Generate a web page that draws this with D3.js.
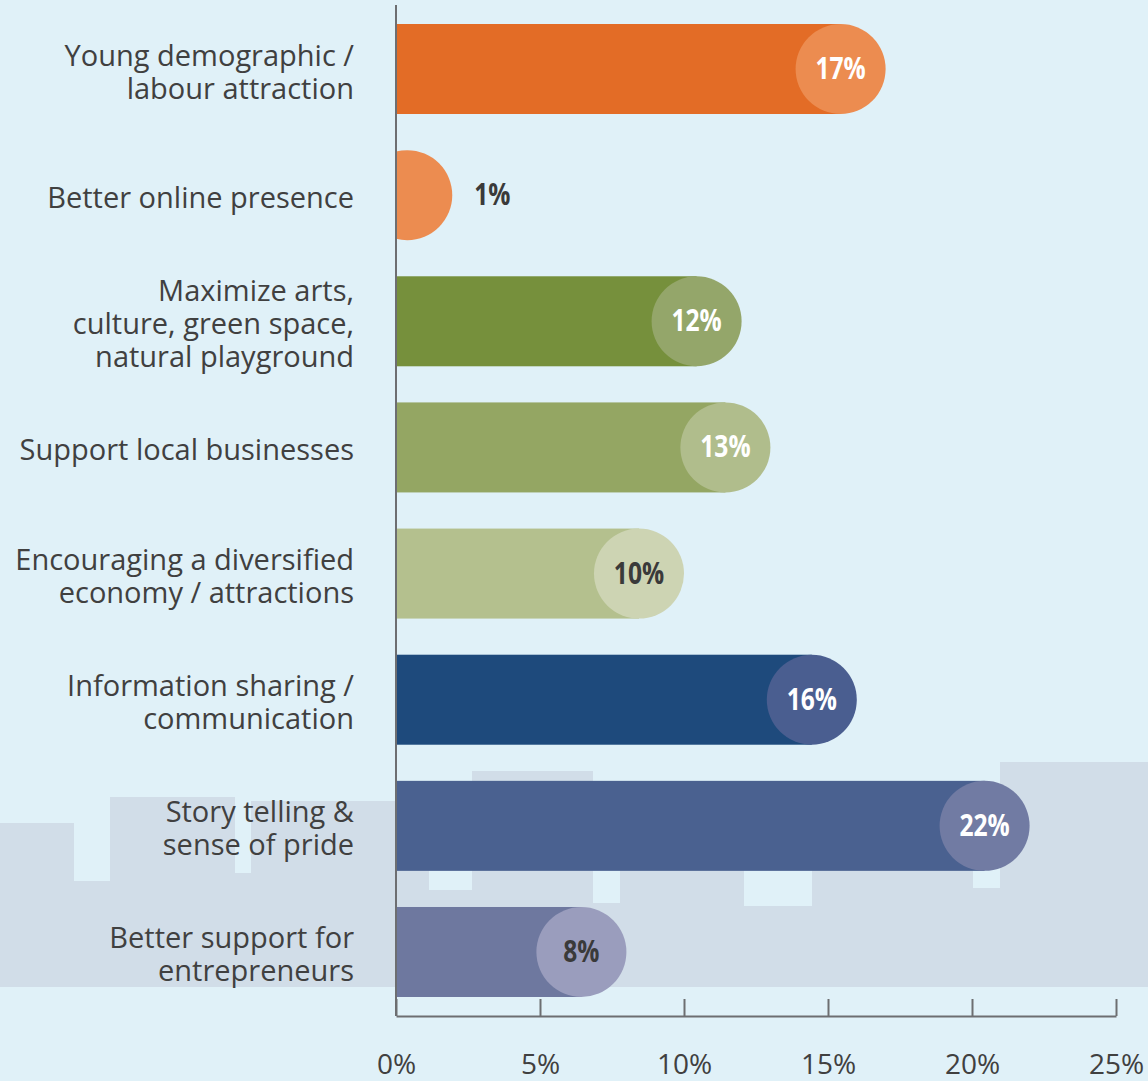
<!doctype html>
<html>
<head>
<meta charset="UTF-8">
<title>Priorities</title>
<script src="https://d3js.org/d3.v7.min.js"></script>
<style>
  body { margin: 0; background: #e0f1f8; }
  svg { display: block; }
</style>
</head>
<body>
<script>
// chart values
var categories = [
  "Young demographic /\nlabour attraction",
  "Better online presence",
  "Maximize arts,\nculture, green space,\nnatural playground",
  "Support local businesses",
  "Encouraging a diversified\neconomy / attractions",
  "Information sharing /\ncommunication",
  "Story telling &\nsense of pride",
  "Better support for\nentrepreneurs"
];
var values = [17, 1, 12, 13, 10, 16, 22, 8];
var tickValues = [0, 5, 10, 15, 20, 25];

// colours: bar body, end circle, label
var barColors = ["#e36c26", "#ec8c50", "#76903c", "#94a663", "#b4c08e", "#1e4a7c", "#4a6190", "#6e789f"];
var dotColors = ["#ec8c50", "#ec8c50", "#94a66a", "#b0bd8c", "#cdd4b3", "#4a5e90", "#717ba3", "#9a9dbd"];
var labelColors = ["#fff", "#3a3a3a", "#fff", "#fff", "#3a3a3a", "#fff", "#fff", "#3a3a3a"];

// background skyline decoration (page pixels): [x0, x1, top]
var skyline = [
  [0, 74, 823], [74, 110, 881], [110, 235, 797], [235, 251, 873], [251, 429, 801],
  [429, 472, 890], [472, 593, 771], [593, 620, 903], [620, 744, 790], [744, 812, 906],
  [812, 973, 800], [973, 1000, 888], [1000, 1148, 762]
];

var W = 1148, H = 1081;
var svg = d3.select("body").append("svg").attr("width", W).attr("height", H);

svg.append("rect").attr("width", W).attr("height", H).attr("fill", "#e0f1f8");

// skyline
svg.append("g").selectAll("rect").data(skyline).join("rect")
  .attr("x", function(d) { return d[0]; })
  .attr("y", function(d) { return d[2]; })
  .attr("width", function(d) { return d[1] - d[0]; })
  .attr("height", function(d) { return 987 - d[2]; })
  .attr("fill", "#d1dde8")
  .attr("shape-rendering", "crispEdges");

var x = d3.scaleLinear().domain([0, 25]).range([396, 1116]);
var y = d3.scaleBand().domain(d3.range(categories.length)).range([24, 997]).paddingInner(0.2865).paddingOuter(0);
var r = y.bandwidth() / 2;

svg.append("clipPath").attr("id", "plot")
  .append("rect").attr("x", x(0)).attr("y", 0).attr("width", W - x(0)).attr("height", H);

var bars = svg.append("g").attr("clip-path", "url(#plot)");

function dotX(v) { return Math.max(x(v) - r, x(0) + r / 4); }

bars.selectAll("rect").data(values).join("rect")
  .attr("x", x(0))
  .attr("y", function(d, i) { return y(i); })
  .attr("width", function(d) { return Math.max(0, x(d) - r - x(0)); })
  .attr("height", y.bandwidth())
  .attr("fill", function(d, i) { return barColors[i]; });

bars.selectAll("circle").data(values).join("circle")
  .attr("cx", function(d) { return dotX(d); })
  .attr("cy", function(d, i) { return y(i) + r; })
  .attr("r", r)
  .attr("fill", function(d, i) { return dotColors[i]; });

// value labels (condensed bold)
svg.append("g").selectAll("text").data(values).join("text")
  .attr("transform", function(d, i) {
    var cx = x(d) - r < x(0) + r / 4 ? dotX(d) + r + 40 : dotX(d);
    return "translate(" + cx + "," + (y(i) + r + 10) + ") scale(0.82,1)";
  })
  .attr("text-anchor", "middle")
  .attr("font-family", "'Open Sans', sans-serif")
  .attr("font-weight", "bold")
  .attr("font-size", 30)
  .attr("fill", function(d, i) { return labelColors[i]; })
  .text(function(d) { return d + "%"; });

// category labels
var cat = svg.append("g").selectAll("text").data(categories).join("text")
  .attr("text-anchor", "end")
  .attr("font-family", "'Open Sans', sans-serif")
  .attr("font-size", 29)
  .attr("fill", "#404040");

cat.each(function(d, i) {
  var lines = d.split("\n");
  var n = lines.length;
  var t = d3.select(this);
  lines.forEach(function(line, j) {
    t.append("tspan")
      .attr("x", 354)
      .attr("y", y(i) + r + (j - (n - 1) / 2) * 33 + 13)
      .text(line);
  });
});

// axes
svg.append("line")
  .attr("x1", x(0)).attr("x2", x(0)).attr("y1", 5).attr("y2", 1016)
  .attr("stroke", "#6d6e71").attr("stroke-width", 2);

var xAxis = d3.axisBottom(x).tickValues(tickValues).tickSize(-17).tickSizeOuter(0)
  .tickFormat(function(d) { return d + "%"; });

var gx = svg.append("g").attr("transform", "translate(0,1016)").call(xAxis);
gx.select(".domain").attr("stroke", "#6d6e71").attr("stroke-width", 2);
gx.selectAll(".tick line").attr("stroke", "#6d6e71").attr("stroke-width", 2);
gx.selectAll(".tick text")
  .attr("y", 58).attr("dy", null)
  .attr("font-family", "'Open Sans', sans-serif")
  .attr("font-size", 28)
  .attr("fill", "#404040");
</script>
</body>
</html>
